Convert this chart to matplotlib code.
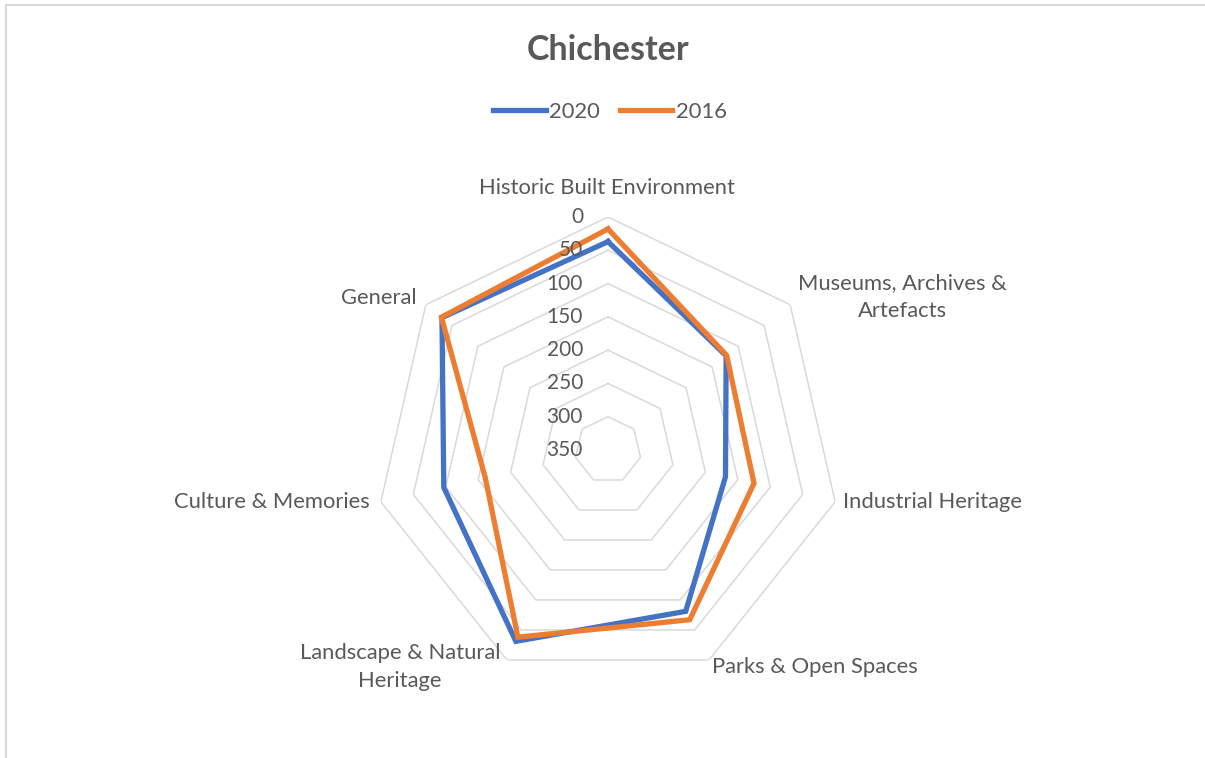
import numpy as np
import matplotlib.pyplot as plt
from matplotlib.lines import Line2D
from matplotlib.transforms import ScaledTranslation

plt.rcParams['font.family'] = ['Lato', 'DejaVu Sans']

categories = ['Historic Built Environment', 'Museums, Archives &\nArtefacts',
              'Industrial Heritage', 'Parks & Open Spaces',
              'Landscape & Natural\nHeritage', 'Culture & Memories', 'General']
v2020 = [37, 123, 169, 81, 31, 97, 31]
v2016 = [18, 122, 125, 67, 38, 161, 30]
rings = [0, 50, 100, 150, 200, 250, 300]
rlabels = [0, 50, 100, 150, 200, 250, 300, 350]

blue = '#4472C4'
orange = '#ED7D31'
grid = '#D9D9D9'
txt = '#595959'

W, H = 1205, 758
fig = plt.figure(figsize=(W / 100, H / 100), dpi=100)

cx, cy, R = 608, 450, 233
ax = fig.add_axes([(cx - R) / W, (H - cy - R) / H, 2 * R / W, 2 * R / H],
                  projection='polar')
ax.set_theta_offset(np.pi / 2)
ax.set_theta_direction(-1)
ax.set_ylim(350, 0)
ax.spines['polar'].set_visible(False)
ax.grid(False)
ax.set_xticks([])
ax.set_yticks([])
ax.patch.set_alpha(0)

n = len(categories)
ang = np.linspace(0, 2 * np.pi, n, endpoint=False)
ang_c = np.append(ang, ang[0])

# heptagon grid
for r in rings:
    ax.plot(ang_c, [r] * (n + 1), color=grid, lw=1.1, zorder=1)

ax.plot(ang_c, v2020 + v2020[:1], color=blue, lw=3.8, zorder=3,
        solid_joinstyle='miter')
ax.plot(ang_c, v2016 + v2016[:1], color=orange, lw=3.8, zorder=4,
        solid_joinstyle='miter')

# radial tick labels
off = ax.transData + ScaledTranslation(-0.25, 0, fig.dpi_scale_trans)
for v in rlabels:
    ax.text(0, v, str(v), transform=off, ha='right', va='center',
            fontsize=15, color=txt, zorder=5)

# category labels (pixel positions)
lab_pos = [(607, 188, 'center'), (902, 297, 'center'), (843, 502, 'left'),
           (712, 667, 'left'), (400, 667, 'center'), (370, 502, 'right'),
           (417, 298, 'right')]
for lab, (x, y, ha) in zip(categories, lab_pos):
    fig.text(x / W, 1 - y / H, lab, ha=ha, va='center', fontsize=15.8,
             color=txt, linespacing=1.5)

fig.text(608 / W, 1 - 50 / H, 'Chichester', ha='center', va='center',
         fontsize=24.5, fontweight='bold', color=txt)

handles = [Line2D([], [], color=blue, lw=3.8), Line2D([], [], color=orange, lw=3.8)]
leg = fig.legend(handles, ['2020', '2016'], loc='center',
                 bbox_to_anchor=(610 / W, 1 - 112 / H), ncol=2, frameon=False,
                 fontsize=15.8, handlelength=2.4, handletextpad=0.15,
                 columnspacing=0.9)
for t in leg.get_texts():
    t.set_color(txt)

# chart border (top and left visible)
fig.add_artist(Line2D([5.5 / W, 5.5 / W], [0, 1 - 4.5 / H], color=grid, lw=1.5))
fig.add_artist(Line2D([5.5 / W, 1], [1 - 4.5 / H, 1 - 4.5 / H], color=grid, lw=1.5))

fig.savefig('out.png', dpi=100)
